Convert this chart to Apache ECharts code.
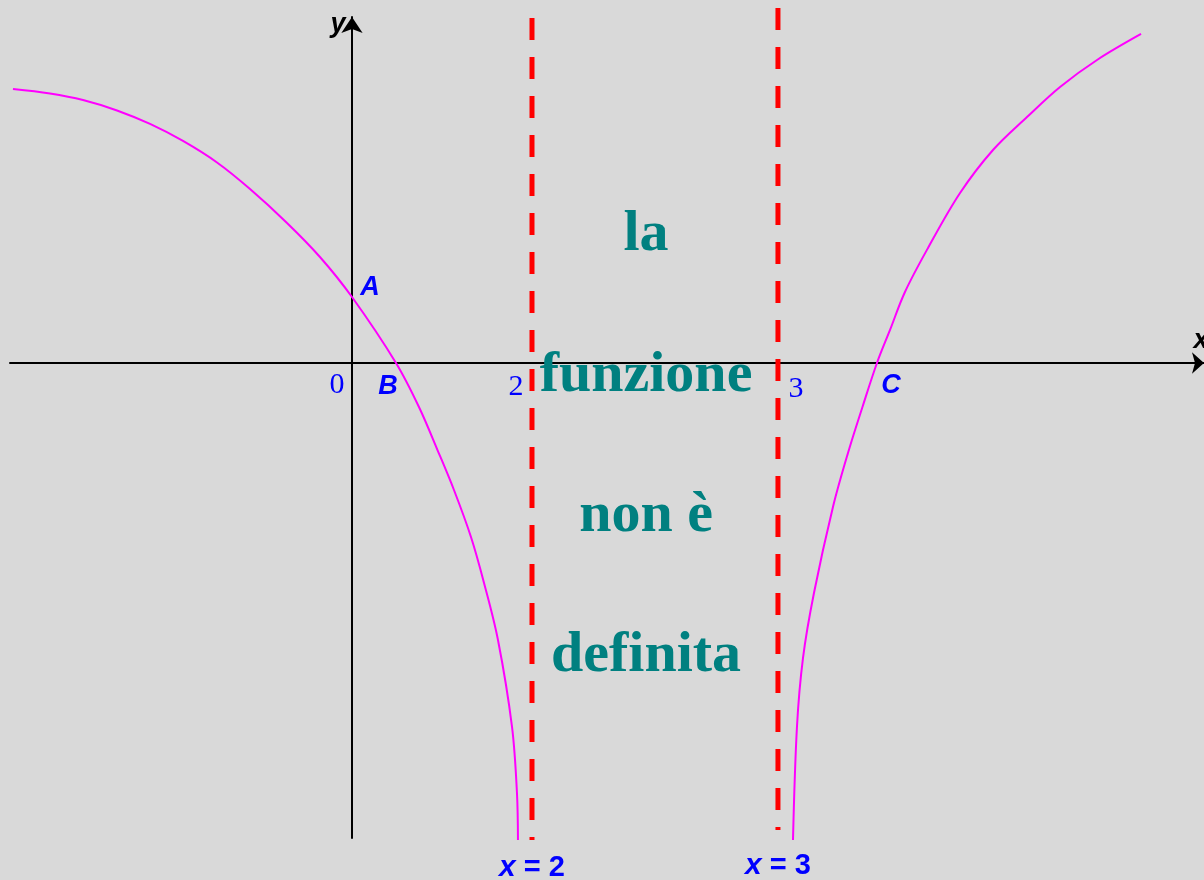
<!DOCTYPE html>
<html style="height: 100%">
    <head>
        <meta charset="utf-8">
    </head>
    <body style="height: 100%; margin: 0; background: #d9d9d9">
        <div id="container" style="width: 1204px; height: 880px"></div>

        <script type="text/javascript" src="https://cdn.jsdelivr.net/npm/echarts@6/dist/echarts.min.js"></script>

        <script type="text/javascript">
var dom = document.getElementById("container");
var myChart = echarts.init(dom);

// the sketch is not to scale: one unit = the 0..2 gap on the x axis
// left branch (x < 2)
var leftX = [-3.767, -3.356, -2.989, -2.611, -2.244, -1.878, -1.5, -1.133, -0.722, -0.356, 0, 0.489, 0.744, 0.95, 1.133, 1.322, 1.467, 1.622, 1.778, 1.833, 1.844];
var leftY = [3.044, 2.994, 2.922, 2.806, 2.656, 2.467, 2.228, 1.933, 1.556, 1.178, 0.733, 0, -0.489, -0.967, -1.411, -1.933, -2.444, -3.078, -4.044, -4.778, -5.3];
// right branch (x > 3)
var rightX = [4.9, 4.944, 5.011, 5.133, 5.344, 5.511, 5.672, 5.833, 5.978, 6.144, 6.4, 6.756, 7.122, 7.5, 7.867, 8.278, 8.767];
var rightY = [-5.3, -4.044, -3.278, -2.556, -1.6, -1.0, -0.489, 0, 0.367, 0.789, 1.278, 1.889, 2.367, 2.733, 3.067, 3.367, 3.656];

// vertical asymptotes x = 2 and x = 3
var asymX = [2, 4.733];
var asymTop = [3.833, 3.944];
var asymBottom = [-5.3, -5.189];
var asymNames = ['2', '3'];

// marked points A, B, C
var pointNames = ['A', 'B', 'C'];
var pointX = [0, 0.489, 5.833];
var pointY = [0.733, 0, 0];

var message = ['la', 'funzione', 'non è', 'definita'];
var messageX = 3.267;
var messageY = [1.422, -0.144, -1.7, -3.256];

function zip(xs, ys) {
    return xs.map(function (x, i) { return [x, ys[i]]; });
}

var blue = '#0000ff';
var letterFont = {fontFamily: 'Liberation Sans', fontWeight: 'bold', fontStyle: 'italic', fontSize: 27};

var pointOffsets = [[18, -9], [-8, 24], [14, 23]];
var tickOffsets = [[-15, 22], [-16, 24], [18, 26]];

var labelData = [];
pointNames.forEach(function (n, i) {
    labelData.push({
        value: [pointX[i], pointY[i]],
        label: Object.assign({formatter: n, color: blue, offset: pointOffsets[i]}, letterFont)
    });
});
// tick labels 0, 2, 3
var tickX = [0].concat(asymX);
['0'].concat(asymNames).forEach(function (n, i) {
    labelData.push({
        value: [tickX[i], 0],
        label: {formatter: n, color: blue, fontFamily: 'Liberation Serif', fontSize: 30, offset: tickOffsets[i]}
    });
});
// x = 2, x = 3 under the asymptotes
asymX.forEach(function (x, i) {
    labelData.push({
        value: [x, asymBottom[0]],
        label: {
            formatter: '{i|x} = ' + asymNames[i],
            color: blue, fontFamily: 'Liberation Sans', fontWeight: 'bold', fontSize: 29,
            offset: [0, 28 - i * 2],
            rich: {i: {fontStyle: 'italic', fontWeight: 'bold', fontSize: 30, color: blue, fontFamily: 'Liberation Sans'}}
        }
    });
});
// axis names
labelData.push({value: [0, 3.756], label: Object.assign({formatter: 'y', color: '#000', offset: [-14, 0]}, letterFont)});
labelData.push({value: [9.333, 0], label: Object.assign({formatter: 'x', color: '#000', offset: [9, -22]}, letterFont)});
// message between the asymptotes
message.forEach(function (m, i) {
    labelData.push({
        value: [messageX, messageY[i]],
        label: {formatter: m, color: '#008080', fontFamily: 'Liberation Serif', fontWeight: 'bold', fontSize: 58}
    });
});

var series = [
    {
        type: 'line', data: zip(leftX, leftY), showSymbol: false, clip: false,
        smooth: 0.35,
        lineStyle: {color: '#ff00ff', width: 2}, z: 3
    },
    {
        type: 'line', data: zip(rightX, rightY), showSymbol: false, clip: false,
        smooth: 0.35,
        lineStyle: {color: '#ff00ff', width: 2}, z: 3
    }
];
asymX.forEach(function (x, i) {
    series.push({
        type: 'line', data: [[x, asymTop[i]], [x, asymBottom[i]]], showSymbol: false, clip: false,
        lineStyle: {color: '#ff0000', width: 5, type: [22, 17]}, z: 4
    });
});
series.push({
    type: 'scatter', data: labelData, symbolSize: 1, clip: false,
    itemStyle: {color: 'transparent', opacity: 1},
    label: {show: true, position: 'inside', opacity: 1, textBorderWidth: 0},
    silent: true, z: 5
});

var option = {
    backgroundColor: '#d9d9d9',
    animation: false,
    grid: {left: 10, right: 0, top: 17, bottom: 42},
    xAxis: {
        type: 'value', min: -3.8, max: 9.4667,
        axisLine: {lineStyle: {color: '#000', width: 2}, symbol: ['none', 'arrow'], symbolSize: [16, 12]},
        axisTick: {show: false}, axisLabel: {show: false}, splitLine: {show: false}
    },
    yAxis: {
        type: 'value', min: -5.2778, max: 3.8444,
        axisLine: {lineStyle: {color: '#000', width: 2}, symbol: ['none', 'arrow'], symbolSize: [16, 16]},
        axisTick: {show: false}, axisLabel: {show: false}, splitLine: {show: false}
    },
    series: series
};

if (option && typeof option === 'object') {
    myChart.setOption(option);
}
        </script>
    </body>
</html>
